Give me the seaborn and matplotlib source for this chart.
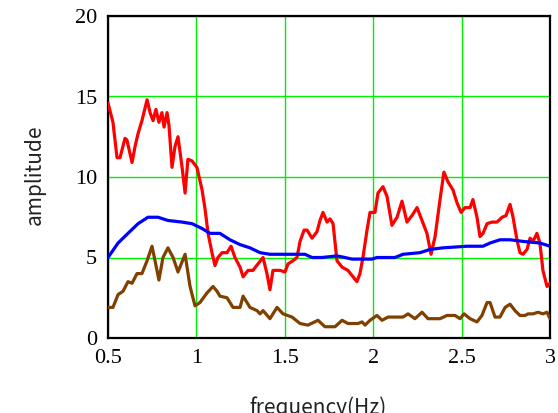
import matplotlib
matplotlib.use("Agg")
import matplotlib.pyplot as plt
import seaborn as sns
import pandas as pd

# ---- data ----
red_f = [0.500, 0.528, 0.551, 0.568, 0.596, 0.607, 0.636, 0.653, 0.670, 0.692,
         0.721, 0.738, 0.755, 0.771, 0.788, 0.805, 0.817, 0.834, 0.845, 0.862,
         0.879, 0.896, 0.919, 0.936, 0.952, 0.975, 1.003, 1.032, 1.049, 1.066,
         1.088, 1.105, 1.122, 1.145, 1.173, 1.196, 1.218, 1.247, 1.264, 1.292,
         1.320, 1.348, 1.377, 1.399, 1.416, 1.433, 1.473, 1.501, 1.518, 1.546,
         1.569, 1.586, 1.609, 1.626, 1.654, 1.682, 1.699, 1.716, 1.739, 1.756,
         1.773, 1.795, 1.824, 1.857, 1.886, 1.908, 1.925, 1.942, 1.965, 1.982,
         2.010, 2.027, 2.055, 2.078, 2.106, 2.135, 2.163, 2.191, 2.219, 2.248,
         2.276, 2.304, 2.327, 2.350, 2.378, 2.400, 2.423, 2.451, 2.474, 2.497,
         2.519, 2.548, 2.564, 2.587, 2.604, 2.621, 2.644, 2.672, 2.700, 2.729,
         2.751, 2.774, 2.791, 2.813, 2.830, 2.847, 2.870, 2.887, 2.904, 2.926,
         2.943, 2.960, 2.983, 3.000]
red_v = [14.6, 13.4, 11.2, 11.2, 12.4, 12.3, 10.9, 11.9, 12.7, 13.5,
         14.8, 14.0, 13.5, 14.2, 13.4, 14.0, 13.1, 14.0, 13.2, 10.6,
         11.9, 12.5, 10.6, 9.0, 11.1, 11.0, 10.6, 9.2, 8.0, 6.5,
         5.3, 4.5, 5.0, 5.3, 5.3, 5.7, 5.0, 4.4, 3.8, 4.2,
         4.2, 4.6, 5.0, 4.0, 3.0, 4.2, 4.2, 4.1, 4.6, 4.8,
         5.0, 6.0, 6.7, 6.7, 6.2, 6.6, 7.3, 7.8, 7.2, 7.4,
         7.1, 4.8, 4.4, 4.2, 3.8, 3.5, 4.0, 5.0, 6.7, 7.8,
         7.8, 9.0, 9.4, 8.8, 7.0, 7.5, 8.5, 7.2, 7.6, 8.1,
         7.3, 6.5, 5.2, 6.3, 8.6, 10.3, 9.7, 9.2, 8.4, 7.8,
         8.1, 8.1, 8.6, 7.5, 6.3, 6.5, 7.1, 7.2, 7.2, 7.5,
         7.6, 8.3, 7.5, 6.1, 5.3, 5.2, 5.5, 6.2, 6.0, 6.5,
         5.9, 4.2, 3.2, 3.4]

blue_f = [0.500, 0.557, 0.613, 0.670, 0.726, 0.783, 0.839, 0.919, 0.975, 1.032,
          1.077, 1.133, 1.190, 1.247, 1.303, 1.360, 1.416, 1.490, 1.569, 1.614,
          1.654, 1.710, 1.795, 1.840, 1.880, 1.993, 2.021, 2.123, 2.169, 2.265,
          2.321, 2.395, 2.531, 2.621, 2.661, 2.717, 2.774, 2.847, 2.943, 3.000]
blue_v = [5.0, 5.9, 6.5, 7.1, 7.5, 7.5, 7.3, 7.2, 7.1, 6.8,
          6.5, 6.5, 6.1, 5.8, 5.6, 5.3, 5.2, 5.2, 5.2, 5.2,
          5.0, 5.0, 5.1, 5.0, 4.9, 4.9, 5.0, 5.0, 5.2, 5.3,
          5.5, 5.6, 5.7, 5.7, 5.9, 6.1, 6.1, 6.0, 5.9, 5.7]

brown_f = [0.500, 0.528, 0.557, 0.585, 0.613, 0.636, 0.664, 0.692, 0.721, 0.749,
           0.766, 0.788, 0.811, 0.839, 0.868, 0.896, 0.936, 0.964, 0.992, 1.020,
           1.060, 1.094, 1.117, 1.133, 1.173, 1.207, 1.247, 1.264, 1.303, 1.343,
           1.360, 1.377, 1.416, 1.456, 1.490, 1.541, 1.586, 1.631, 1.688, 1.727,
           1.784, 1.824, 1.857, 1.914, 1.937, 1.954, 1.982, 2.021, 2.050, 2.084,
           2.135, 2.169, 2.197, 2.236, 2.276, 2.310, 2.378, 2.417, 2.463, 2.491,
           2.514, 2.548, 2.587, 2.615, 2.644, 2.661, 2.689, 2.717, 2.746, 2.774,
           2.802, 2.830, 2.859, 2.876, 2.904, 2.932, 2.960, 2.983, 3.000]
brown_v = [1.9, 1.9, 2.7, 2.9, 3.5, 3.4, 4.0, 4.0, 4.8, 5.7,
           4.8, 3.6, 5.0, 5.6, 5.0, 4.1, 5.2, 3.2, 2.0, 2.2,
           2.8, 3.2, 2.9, 2.6, 2.5, 1.9, 1.9, 2.6, 1.9, 1.7,
           1.5, 1.7, 1.2, 1.9, 1.5, 1.3, 0.9, 0.8, 1.1, 0.7,
           0.7, 1.1, 0.9, 0.9, 1.0, 0.8, 1.1, 1.4, 1.1, 1.3,
           1.3, 1.3, 1.5, 1.2, 1.6, 1.2, 1.2, 1.4, 1.4, 1.2,
           1.5, 1.2, 1.0, 1.4, 2.2, 2.2, 1.3, 1.3, 1.9, 2.1,
           1.7, 1.4, 1.4, 1.5, 1.5, 1.6, 1.5, 1.6, 1.2]

x_ticks = [0.5, 1, 1.5, 2, 2.5, 3]
x_tick_labels = ["0.5", "1", "1.5", "2", "2.5", "3"]
y_ticks = [0, 5, 10, 15, 20]
y_tick_labels = ["0", "5", "10", "15", "20"]

sns.set_style("white")
plt.rcParams['font.family'] = ['DejaVu Sans']

fig = plt.figure(figsize=(5.58, 4.13), dpi=100)
ax = fig.add_axes([108/558, 1 - 338/413, 442/558, 322/413])

series = [
    (red_f, red_v, "#ff0000"),
    (blue_f, blue_v, "#0000ff"),
    (brown_f, brown_v, "#804000"),
]
for f, v, c in series:
    df = pd.DataFrame({"f": f, "v": v})
    sns.lineplot(data=df, x="f", y="v", ax=ax, color=c, linewidth=2.3,
                 estimator=None, sort=False, zorder=3)

ax.set_xlim(0.5, 3)
ax.set_ylim(0, 20)
ax.set_xticks(x_ticks)
ax.set_xticklabels(x_tick_labels, family="Liberation Serif", fontsize=16)
ax.set_yticks(y_ticks)
ax.set_yticklabels(y_tick_labels, family="Liberation Serif", fontsize=16)
ax.tick_params(axis="both", length=0, pad=8, colors="black")

ax.grid(True, color="#00ee00", linewidth=1.0, zorder=1)
ax.set_axisbelow(True)
for s in ax.spines.values():
    s.set_visible(True)
    s.set_color("black")
    s.set_linewidth(1.6)

ax.set_xlabel("frequency(Hz)", fontsize=15, family=["Noto Sans CJK JP", "DejaVu Sans"], color="#222222")
ax.xaxis.set_label_coords(0.475, -0.18)
ax.set_ylabel("amplitude", fontsize=15, family=["Noto Sans CJK JP", "DejaVu Sans"], color="#222222")
ax.yaxis.set_label_coords(-0.14, 0.506)

fig.savefig("out.png", dpi=100)
